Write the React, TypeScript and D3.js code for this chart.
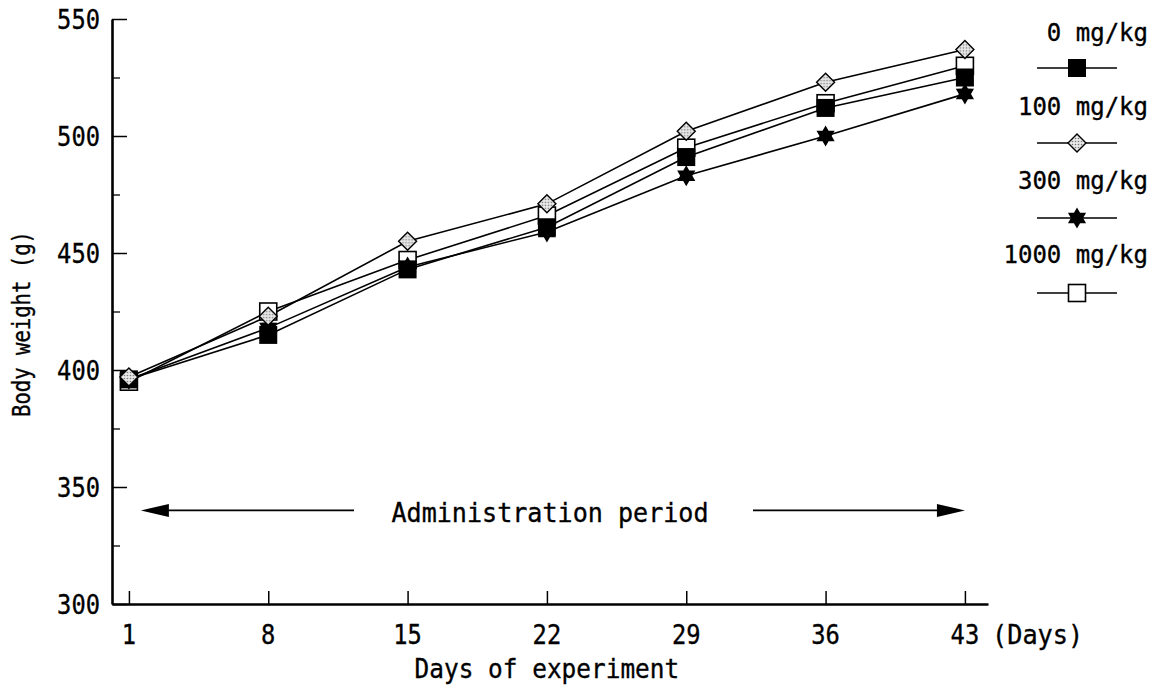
import React, { useEffect, useRef } from 'react';
import * as d3 from 'd3';

const width = 1157;
const height = 690;

// data (body weight, g)
const days = [1, 8, 15, 22, 29, 36, 43];
const dose0 = [396, 415, 443, 461, 491, 512, 525];
const dose100 = [397, 423, 455, 471, 502, 523, 537];
const dose300 = [396, 418, 444, 459, 483, 500, 518];
const dose1000 = [395, 425, 447, 466, 495, 514, 530];

const seriesNames = ['0 mg/kg', '100 mg/kg', '300 mg/kg', '1000 mg/kg'];
const markerKinds = ['filled', 'diamond', 'star', 'open'];

const yMajorTicks = [300, 350, 400, 450, 500, 550];
const yMinorTicks = [325, 375, 425, 475, 525];

const arrowValue = 340;
const arrowStartDay = 1.6;

const font = "'DejaVu Sans Mono', monospace";

type Sel = d3.Selection<any, unknown, null, undefined>;

// monospaced text squeezed to the narrow look of the original
const addText = (
  parent: Sel,
  str: string,
  x: number,
  y: number,
  size: number,
  advance: number,
  anchor = 'start'
) => {
  return parent
    .append('text')
    .attr('x', x)
    .attr('y', y)
    .attr('text-anchor', anchor)
    .attr('font-family', font)
    .attr('font-size', size)
    .attr('textLength', str.length * advance)
    .attr('lengthAdjust', 'spacingAndGlyphs')
    .attr('fill', '#000')
    .attr('stroke', '#000')
    .attr('stroke-width', 0.35)
    .text(str);
};

// six pointed star
const hexagram = (r: number) => {
  const pts: [number, number][] = [];
  for (let i = 0; i < 12; i++) {
    const a = (i * Math.PI) / 6 - Math.PI / 2;
    const rr = i % 2 ? r * 0.58 : r;
    pts.push([Math.cos(a) * rr, Math.sin(a) * rr]);
  }
  return 'M' + pts.map((p) => p.join(',')).join('L') + 'Z';
};

const drawMarker = (g: Sel, kind: string, x: number, y: number) => {
  if (kind === 'filled') {
    g.append('rect')
      .attr('x', x - 9)
      .attr('y', y - 9)
      .attr('width', 18)
      .attr('height', 18)
      .attr('fill', '#000');
  } else if (kind === 'open') {
    g.append('rect')
      .attr('x', x - 8.5)
      .attr('y', y - 8.5)
      .attr('width', 17)
      .attr('height', 17)
      .attr('fill', '#fff')
      .attr('stroke', '#000')
      .attr('stroke-width', 1.6);
  } else if (kind === 'diamond') {
    g.append('path')
      .attr('d', 'M0,-9L9,0L0,9L-9,0Z')
      .attr('transform', `translate(${x},${y})`)
      .attr('fill', 'url(#dots)')
      .attr('stroke', '#000')
      .attr('stroke-width', 1.4);
  } else {
    g.append('path')
      .attr('d', hexagram(10.5))
      .attr('transform', `translate(${x},${y})`)
      .attr('fill', '#000');
  }
};

const BodyWeightChart = (): JSX.Element => {
  const container = useRef<SVGSVGElement>(null);

  useEffect(() => {
    const svg = d3.select(container.current);
    svg.selectAll('*').remove();

    const defs = svg.append('defs');
    const pat = defs
      .append('pattern')
      .attr('id', 'dots')
      .attr('width', 3)
      .attr('height', 3)
      .attr('patternUnits', 'userSpaceOnUse');
    pat.append('rect').attr('width', 3).attr('height', 3).attr('fill', '#e8e8e8');
    pat.append('circle').attr('cx', 1.5).attr('cy', 1.5).attr('r', 0.8).attr('fill', '#777');

    const xScale = d3.scaleLinear().domain([0.15, 44.16]).range([112, 988]);
    const yScale = d3.scaleLinear().domain([300, 550]).range([604, 19]);

    const series = [dose0, dose100, dose300, dose1000].map((values, i) => ({
      name: seriesNames[i],
      marker: markerKinds[i],
      values,
    }));

    // y axis
    const yAxis = svg
      .append('g')
      .attr('transform', `translate(${xScale.range()[0]},0)`)
      .call(
        d3
          .axisLeft(yScale)
          .tickValues(yMajorTicks)
          .tickSizeInner(-15)
          .tickSizeOuter(0)
      );
    yAxis.select('.domain').attr('stroke', '#000').attr('stroke-width', 2.6);
    yAxis.selectAll('.tick line').attr('stroke', '#000').attr('stroke-width', 1.5);
    yAxis.selectAll('.tick text').remove();
    yMajorTicks.forEach((v) => {
      addText(svg, String(v), 100, yScale(v) + 10, 27, 14.3, 'end');
    });

    const yMinor = svg
      .append('g')
      .attr('transform', `translate(${xScale.range()[0]},0)`)
      .call(d3.axisLeft(yScale).tickValues(yMinorTicks).tickSizeInner(-8).tickSizeOuter(0).tickFormat(() => ''));
    yMinor.select('.domain').remove();
    yMinor.selectAll('.tick line').attr('stroke', '#000').attr('stroke-width', 1.3);

    // x axis
    const xAxis = svg
      .append('g')
      .attr('transform', `translate(0,${yScale.range()[0]})`)
      .call(d3.axisBottom(xScale).tickValues(days).tickSizeInner(-13).tickSizeOuter(0));
    xAxis.select('.domain').attr('stroke', '#000').attr('stroke-width', 2.6);
    xAxis.selectAll('.tick line').attr('stroke', '#000').attr('stroke-width', 1.5);
    xAxis.selectAll('.tick text').remove();
    days.forEach((d) => {
      addText(svg, String(d), xScale(d), 644, 27, 14.3, 'middle');
    });
    addText(svg, '(Days)', 992, 644, 27, 15.2);
    addText(svg, 'Days of experiment', xScale(22), 678, 27, 14.7, 'middle');

    // y title
    const yTitle = svg.append('g').attr('transform', 'translate(30,324) rotate(-90)');
    addText(yTitle, 'Body weight (g)', 0, 0, 24, 12.4, 'middle');

    // administration period arrow
    const ay = yScale(arrowValue);
    const ax0 = xScale(arrowStartDay);
    const ax1 = xScale(days[days.length - 1]);
    svg.append('line').attr('x1', ax0 + 10).attr('x2', 354).attr('y1', ay).attr('y2', ay).attr('stroke', '#000').attr('stroke-width', 1.6);
    svg.append('line').attr('x1', 753).attr('x2', ax1 - 10).attr('y1', ay).attr('y2', ay).attr('stroke', '#000').attr('stroke-width', 1.6);
    svg.append('path').attr('d', `M${ax0},${ay}L${ax0 + 28},${ay - 6.5}L${ax0 + 28},${ay + 6.5}Z`).attr('fill', '#000');
    svg.append('path').attr('d', `M${ax1},${ay}L${ax1 - 28},${ay - 6.5}L${ax1 - 28},${ay + 6.5}Z`).attr('fill', '#000');
    addText(svg, 'Administration period', 550, ay + 12, 27, 15.1, 'middle');

    // lines
    const lineGenerator = d3
      .line<number>()
      .x((_, i) => xScale(days[i]))
      .y((d) => yScale(d));

    series.forEach((s) => {
      svg
        .append('path')
        .attr('d', lineGenerator(s.values) || '')
        .attr('fill', 'none')
        .attr('stroke', '#000')
        .attr('stroke-width', 1.6);
    });

    // markers, open squares underneath, diamonds on top
    const drawOrder = [3, 0, 2, 1];
    const markers = svg.append('g');
    drawOrder.forEach((k) => {
      const s = series[k];
      s.values.forEach((v, i) => drawMarker(markers, s.marker, xScale(days[i]), yScale(v)));
    });

    // legend
    const legend = svg.append('g');
    series.forEach((s, i) => {
      legend
        .append('text')
        .attr('x', 1148)
        .attr('y', 41 + 74 * i)
        .attr('text-anchor', 'end')
        .attr('font-family', font)
        .attr('font-size', 24)
        .attr('fill', '#000')
        .attr('stroke', '#000')
        .attr('stroke-width', 0.35)
        .text(s.name);
      const my = 68 + 75 * i;
      legend
        .append('line')
        .attr('x1', 1037)
        .attr('x2', 1117)
        .attr('y1', my)
        .attr('y2', my)
        .attr('stroke', '#000')
        .attr('stroke-width', 1.4);
      drawMarker(legend, s.marker, 1077, my);
    });
  }, []);

  return (
    <svg
      ref={container}
      width={width}
      height={height}
      style={{ position: 'absolute', left: 0, top: 0, background: '#fff' }}
    />
  );
};

export default function App() {
  return <BodyWeightChart />;
}
